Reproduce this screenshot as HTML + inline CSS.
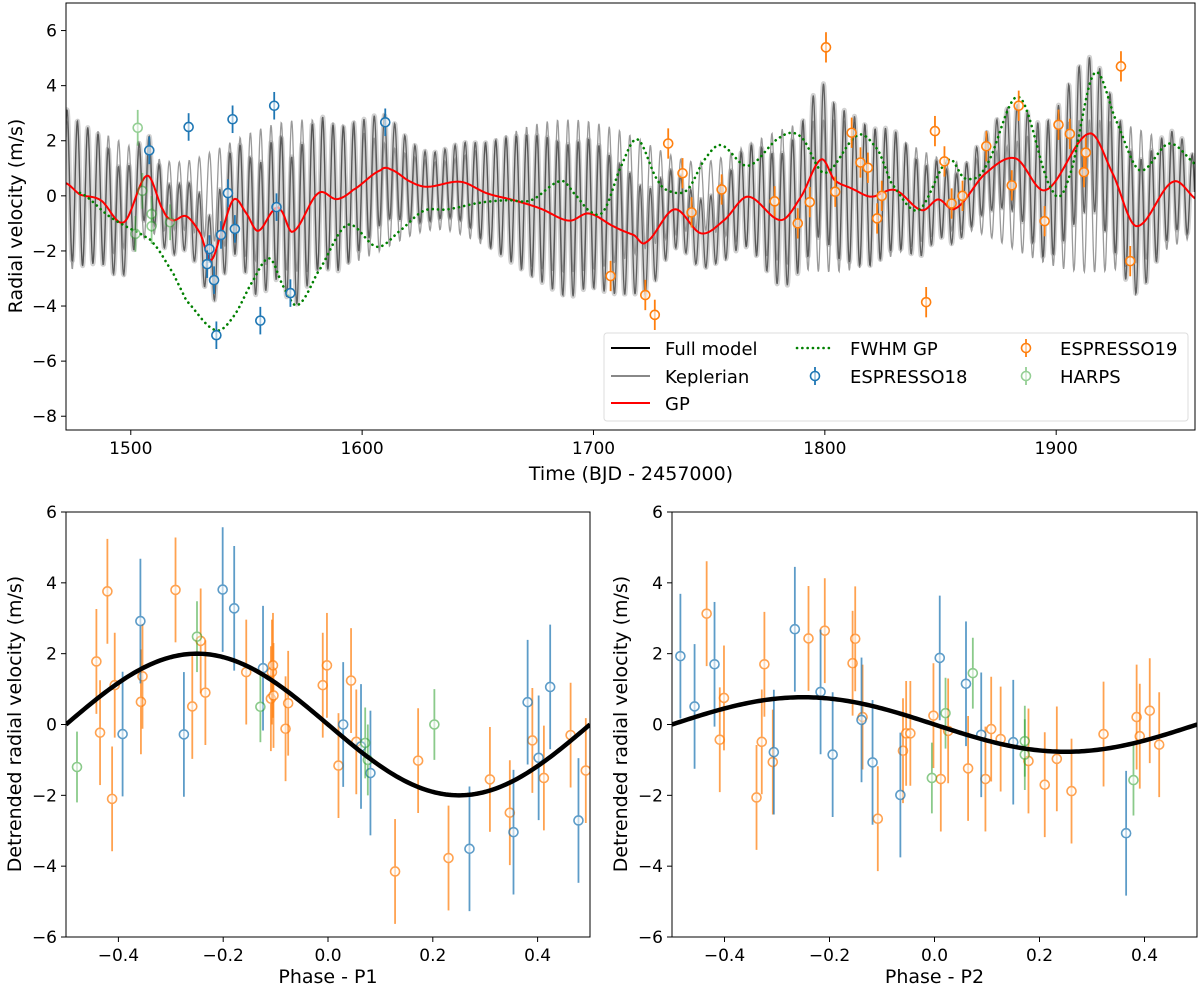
<!DOCTYPE html>
<html><head><meta charset="utf-8">
<style>
html,body{margin:0;padding:0;background:#fff;}
svg{display:block;font-family:"DejaVu Sans","Liberation Sans",sans-serif;}
</style></head>
<body>
<svg id="fig" width="1200" height="991" viewBox="0 0 1200 991" xmlns="http://www.w3.org/2000/svg">
<rect width="1200" height="991" fill="#fff"/>
<g id="top"></g>
<g id="p1"></g>
<g id="p2"></g>
</svg>
<script>
// ---------- data ----------
const kepK = [2.0, 0.77];
const kepP = [4.42, 4.60];
const kepT0 = [1500.0, 1501.5];
const gpT = [1472,1478,1487,1497,1507,1514,1518,1524,1530,1534.6,1539,1544.5,1550,1555,1562,1565,1570,1581,1589,1596,1608,1612.3,1621,1628,1642.6,1654,1665.6,1677,1689.4,1698,1709,1717.6,1722.6,1735,1746.5,1756.5,1766.7,1781,1789.7,1798.4,1804.2,1811.5,1820,1830.3,1841.9,1849,1856.4,1869.4,1882.4,1895.4,1914.3,1924.4,1934.6,1950.5,1961.3];
const gpV = [0.46,0.05,-0.16,-0.96,0.73,-0.52,-0.89,-0.74,-1.36,-2.33,-1.36,-0.13,-0.64,-1.27,-0.5,-0.53,-1.3,0.09,-0.12,0.21,0.93,0.96,0.51,0.33,0.51,0.09,-0.16,-0.46,-0.9,-0.64,-1.12,-1.43,-1.69,-0.49,-1.36,-0.88,-0.03,-0.88,-0.03,1.32,0.57,0.27,-0.03,0.21,-0.52,-0.13,-0.46,0.81,1.36,0.21,2.26,0.81,-1.1,0.51,-0.16];
const fwT = [1478,1491,1504,1509.7,1518.4,1524,1536.5,1544.3,1553,1560,1566,1572,1580.5,1593.5,1606.5,1616.6,1626.7,1636.8,1651,1662.8,1672.9,1686,1691.6,1698.8,1704.6,1711.8,1719,1727.7,1733.5,1740.7,1747.9,1755,1766.7,1781,1789.7,1799.9,1814.3,1823,1828.8,1840.4,1853.4,1860.6,1869.4,1883.8,1898.3,1905.6,1916.4,1925.8,1936,1949,1962];
const fwV = [0.11,-0.76,-1.36,-1.72,-2.82,-3.8,-4.87,-4.39,-3.06,-2.27,-3.3,-3.97,-2.82,-1.06,-1.85,-1.25,-0.54,-0.49,-0.25,-0.16,-0.16,0.54,0.09,-0.58,-0.52,1.05,2.05,0.57,0.15,0.23,1.3,1.84,1.09,2.14,2.14,0.83,2.2,1.66,0.45,-0.52,1.3,0.63,1.05,3.59,0.21,0.69,4.44,2.75,0.93,1.9,1.05];
const e18T = [1508,1525,1544,1562,1542,1534,1533,1536,1537,1539,1545,1563,1569,1556,1610];
const e18V = [1.65,2.5,2.78,3.27,0.1,-1.93,-2.48,-3.06,-5.06,-1.42,-1.2,-0.41,-3.53,-4.53,2.67];
const e19T = [1707.4,1722.4,1726.5,1732.3,1738.5,1742.4,1755.4,1778.3,1788.3,1793.5,1800.5,1804.5,1811.6,1815.4,1818.6,1822.6,1824.6,1843.8,1847.6,1851.7,1854.8,1859.5,1869.8,1880.8,1883.8,1895,1901,1905.9,1912.8,1912,1928,1932];
const e19V = [-2.91,-3.6,-4.32,1.9,0.82,-0.6,0.23,-0.2,-1.0,-0.23,5.39,0.15,2.29,1.21,1.02,-0.82,0.0,-3.86,2.35,1.25,-0.28,0.0,1.8,0.38,3.27,-0.92,2.58,2.25,1.57,0.86,4.7,-2.37];
const hT = [1503,1505,1502,1509,1509,1517];
const hV = [2.47,0.18,-1.38,-0.66,-1.1,-0.96];
// phase P1
const p1BluePh = [-0.358,-0.392,-0.275,-0.201,-0.179,-0.124,0.029,0.081,0.063,0.270,0.354,0.381,0.402,0.424,0.478];
const p1BlueV = [2.92,-0.27,-0.28,3.81,3.28,1.59,0.0,-1.37,-0.62,-3.51,-3.04,0.63,-0.94,1.06,-2.71];
const p1OrPh = [-0.442,-0.435,-0.421,-0.412,-0.407,-0.357,-0.354,-0.291,-0.259,-0.243,-0.234,-0.156,-0.109,-0.107,-0.105,-0.104,-0.081,-0.076,-0.010,-0.002,0.020,0.044,0.054,0.128,0.172,0.230,0.309,0.347,0.390,0.412,0.463,0.492];
const p1OrV = [1.78,-0.23,3.76,-2.1,1.11,0.64,1.36,3.8,0.51,2.36,0.9,1.48,0.73,1.48,1.67,0.82,-0.12,0.6,1.11,1.67,-1.16,1.24,-0.49,-4.15,-1.02,-3.77,-1.55,-2.49,-0.45,-1.51,-0.30,-1.3];
const p1GrPh = [-0.479,-0.250,-0.129,0.071,0.076,0.203];
const p1GrV = [-1.2,2.48,0.5,-0.52,-1.0,0.0];
// phase P2
const p2BluePh = [-0.484,-0.457,-0.419,-0.306,-0.266,-0.217,-0.194,-0.139,-0.118,-0.065,0.010,0.060,0.089,0.150,0.365];
const p2BlueV = [1.93,0.51,1.70,-0.78,2.69,0.92,-0.85,0.13,-1.07,-1.99,1.88,1.15,-0.29,-0.50,-3.07];
const p2OrPh = [-0.434,-0.409,-0.401,-0.339,-0.329,-0.324,-0.308,-0.240,-0.209,-0.156,-0.151,-0.137,-0.108,-0.060,-0.054,-0.046,-0.002,0.012,0.026,0.064,0.097,0.108,0.126,0.179,0.210,0.233,0.261,0.322,0.385,0.391,0.410,0.428];
const p2OrV = [3.13,-0.43,0.75,-2.06,-0.49,1.70,-1.06,2.43,2.65,1.73,2.42,0.21,-2.66,-0.74,-0.25,-0.25,0.25,-1.54,-0.18,-1.24,-1.54,-0.13,-0.41,-1.03,-1.70,-0.97,-1.88,-0.27,0.21,-0.33,0.39,-0.57];
const p2GrPh = [-0.005,0.021,0.073,0.172,0.172,0.379];
const p2GrV = [-1.51,0.32,1.45,-0.47,-0.85,-1.57];
const topXTicks = [1500,1600,1700,1800,1900];
const topYTicks = [6,4,2,0,-2,-4,-6,-8];
const phXTicks = [-0.4,-0.2,0.0,0.2,0.4];
const phYTicks = [6,4,2,0,-2,-4,-6];

// ---------- helpers ----------
const NS="http://www.w3.org/2000/svg";
function mk(parent,tag,attrs,text){const e=document.createElementNS(NS,tag);for(const k in attrs)e.setAttribute(k,attrs[k]);if(text!==undefined)e.textContent=text;parent.appendChild(e);return e;}
function fmt(v,d){const s=v.toFixed(d);return v<0?"\u2212"+s.slice(1):s;}
function interp(ts,vs,t){
  let i=0;while(i<ts.length-2&&t>ts[i+1])i++;
  const t0=ts[i],t1=ts[i+1];let u=(t-t0)/(t1-t0);u=Math.max(0,Math.min(1,u));
  const p0=vs[Math.max(0,i-1)],p1=vs[i],p2=vs[i+1],p3=vs[Math.min(vs.length-1,i+2)];
  return 0.5*((2*p1)+(-p0+p2)*u+(2*p0-5*p1+4*p2-p3)*u*u+(-p0+3*p1-3*p2+p3)*u*u*u);
}
function kep(t){let s=0;for(let k=0;k<kepK.length;k++)s+=-kepK[k]*Math.sin(2*Math.PI*(t-kepT0[k])/kepP[k]);return s;}

function axesFrame(g,x0,x1,y0,y1,xs,ys,xt,yt,xd,yd,name){
  mk(g,"rect",{x:x0,y:y0,width:x1-x0,height:y1-y0,fill:"none",stroke:"#000","stroke-width":1,});
  xt.forEach(v=>{const x=xs(v);mk(g,"line",{x1:x,x2:x,y1:y1,y2:y1+5,stroke:"#000"});
    const t=mk(g,"text",{x:x,y:y1+24,"text-anchor":"middle","font-size":17},fmt(v,xd));
    
    });
  yt.forEach(v=>{const y=ys(v);mk(g,"line",{x1:x0-5,x2:x0,y1:y,y2:y,stroke:"#000"});
    const t=mk(g,"text",{x:x0-9,y:y+6,"text-anchor":"end","font-size":17},fmt(v,yd));
    
    });
}
function errPoint(g,x,y,eTop,eBot,color,op,name){
  const grp=mk(g,"g",{opacity:op});
  
  
  mk(grp,"line",{x1:x,x2:x,y1:eTop,y2:eBot,stroke:color,"stroke-width":1.8});
  mk(grp,"circle",{cx:x,cy:y,r:4.5,fill:"#fff","fill-opacity":0.6,stroke:color,"stroke-width":1.6});
}

// ---------- top panel ----------
(function(){
  const g=document.getElementById("top");
  const X0=66,X1=1195,Y0=3,Y1=430,TMIN=1472,TMAX=1960,VMIN=-8.5,VMAX=7;
  const xs=t=>X0+(t-TMIN)/(TMAX-TMIN)*(X1-X0);
  const ys=v=>Y1-(v-VMIN)/(VMAX-VMIN)*(Y1-Y0);
  mk(g,"defs",{}).innerHTML='<clipPath id="ctop"><rect x="66" y="3" width="1129" height="427"/></clipPath>';
  const c=mk(g,"g",{"clip-path":"url(#ctop)"});
  let kp="",full="";
  for(let t=TMIN;t<=TMAX;t+=0.2){const k=kep(t),gp=interp(gpT,gpV,t);
    const x=xs(t).toFixed(2);kp+=x+","+ys(k).toFixed(2)+" ";full+=x+","+ys(k+gp).toFixed(2)+" ";}
  mk(c,"polyline",{points:full,fill:"none",stroke:"#d2d2d2","stroke-width":5,"stroke-linejoin":"round",});
  mk(c,"polyline",{points:kp,fill:"none",stroke:"#9a9a9a","stroke-width":1.3,});
  mk(c,"polyline",{points:full,fill:"none",stroke:"#444","stroke-width":1.3,opacity:0.8,});
  let gpP="";for(let t=TMIN;t<=TMAX;t+=0.5)gpP+=xs(t).toFixed(2)+","+ys(interp(gpT,gpV,t)).toFixed(2)+" ";
  mk(c,"polyline",{points:gpP,fill:"none",stroke:"#ff0000","stroke-width":2,});
  let fwP="";for(let t=fwT[0];t<=TMAX;t+=0.5)fwP+=xs(t).toFixed(2)+","+ys(interp(fwT,fwV,t)).toFixed(2)+" ";
  mk(c,"polyline",{points:fwP,fill:"none",stroke:"#008000","stroke-width":2.6,"stroke-dasharray":"0.1 5.2","stroke-linecap":"round",});
  hT.forEach((t,i)=>errPoint(c,xs(t),ys(hV[i]),ys(hV[i]+0.65),ys(hV[i]-0.65),"#2ca02c",0.5,"harps-point"));
  e18T.forEach((t,i)=>errPoint(c,xs(t),ys(e18V[i]),ys(e18V[i]+0.5),ys(e18V[i]-0.5),"#1f77b4",1,"espresso18-point"));
  e19T.forEach((t,i)=>errPoint(c,xs(t),ys(e19V[i]),ys(e19V[i]+0.55),ys(e19V[i]-0.55),"#ff7f0e",1,"espresso19-point"));
  axesFrame(g,X0,X1,Y0,Y1,xs,ys,topXTicks,topYTicks,0,0,"top-axes");
  mk(g,"text",{x:631,y:480,"text-anchor":"middle","font-size":19,},"Time (BJD - 2457000)");
  mk(g,"text",{x:0,y:0,transform:"translate(22,216) rotate(-90)","text-anchor":"middle","font-size":19,},"Radial velocity (m/s)");
  const L=mk(g,"g",{});
  mk(L,"rect",{x:604,y:333,width:584,height:88,rx:3,fill:"#fff","fill-opacity":0.85,stroke:"#ddd"});
  const rows=[348,376,403];
  function ent(name,y,tx,label){return mk(L,"text",{x:tx,y:y+7,"font-size":18,},label);}
  mk(L,"line",{x1:611,x2:650,y1:rows[0],y2:rows[0],stroke:"#000","stroke-width":2});ent("legend-full-model",rows[0],665,"Full model");
  mk(L,"line",{x1:611,x2:650,y1:rows[1],y2:rows[1],stroke:"#888","stroke-width":2});ent("legend-keplerian",rows[1],665,"Keplerian");
  mk(L,"line",{x1:611,x2:650,y1:rows[2],y2:rows[2],stroke:"#f00","stroke-width":2});ent("legend-gp",rows[2],665,"GP");
  mk(L,"line",{x1:797,x2:834,y1:rows[0],y2:rows[0],stroke:"#008000","stroke-width":2.6,"stroke-dasharray":"0.1 5.2","stroke-linecap":"round"});ent("legend-fwhm-gp",rows[0],850,"FWHM GP");
  errPoint(L,815,rows[1],rows[1]-9,rows[1]+9,"#1f77b4",1,"legend-espresso18-marker");ent("legend-espresso18",rows[1],850,"ESPRESSO18");
  errPoint(L,1026,rows[0],rows[0]-9,rows[0]+9,"#ff7f0e",1,"legend-espresso19-marker");ent("legend-espresso19",rows[0],1060,"ESPRESSO19");
  errPoint(L,1026,rows[1],rows[1]-9,rows[1]+9,"#2ca02c",0.5,"legend-harps-marker");ent("legend-harps",rows[1],1060,"HARPS");
})();

// ---------- phase panels ----------
function phasePanel(id,X0,X1,K,bPh,bV,oPh,oV,gPh,gV,label){
  const g=document.getElementById(id);
  const Y0=512,Y1=937;
  const xs=p=>X0+(p+0.5)*(X1-X0);
  const ys=v=>Y1-(v+6)/12*(Y1-Y0);
  mk(g,"defs",{}).innerHTML='<clipPath id="c'+id+'"><rect x="'+X0+'" y="'+Y0+'" width="'+(X1-X0)+'" height="'+(Y1-Y0)+'"/></clipPath>';
  const c=mk(g,"g",{"clip-path":"url(#c"+id+")"});
  oPh.forEach((p,i)=>errPoint(c,xs(p),ys(oV[i]),ys(oV[i]+1.48),ys(oV[i]-1.48),"#ff7f0e",0.72,"espresso19-phase-point"));
  bPh.forEach((p,i)=>errPoint(c,xs(p),ys(bV[i]),ys(bV[i]+1.76),ys(bV[i]-1.76),"#1f77b4",0.72,"espresso18-phase-point"));
  gPh.forEach((p,i)=>errPoint(c,xs(p),ys(gV[i]),ys(gV[i]+1.0),ys(gV[i]-1.0),"#2ca02c",0.55,"harps-phase-point"));
  let pts="";for(let p=-0.5;p<=0.5001;p+=0.005)pts+=xs(p).toFixed(2)+","+ys(-K*Math.sin(2*Math.PI*p)).toFixed(2)+" ";
  mk(c,"polyline",{points:pts,fill:"none",stroke:"#000","stroke-width":4.5,});
  axesFrame(g,X0,X1,Y0,Y1,xs,ys,phXTicks,phYTicks,1,0,id+"-axes");
  mk(g,"text",{x:(X0+X1)/2,y:983,"text-anchor":"middle","font-size":19,},label);
  mk(g,"text",{x:0,y:0,transform:"translate("+(X0-45)+",724) rotate(-90)","text-anchor":"middle","font-size":19,},"Detrended radial velocity (m/s)");
}
phasePanel("p1",66,590,kepK[0],p1BluePh,p1BlueV,p1OrPh,p1OrV,p1GrPh,p1GrV,"Phase - P1");
phasePanel("p2",672,1197,kepK[1],p2BluePh,p2BlueV,p2OrPh,p2OrV,p2GrPh,p2GrV,"Phase - P2");
</script>
</body></html>
